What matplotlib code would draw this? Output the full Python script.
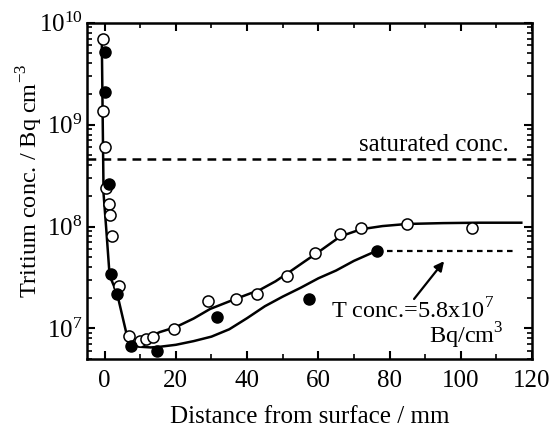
import matplotlib.pyplot as plt
import numpy as np
from matplotlib.ticker import LogLocator, MultipleLocator, NullFormatter

plt.rcParams['font.family'] = ['Liberation Serif', 'DejaVu Serif']
plt.rcParams['mathtext.fontset'] = 'custom'
plt.rcParams['mathtext.rm'] = 'Liberation Serif'

# open circles
open_x = [-0.5, -0.5, 0.0, 0.3, 1.1, 1.6, 2.2, 4.0, 6.8, 9.9, 11.7, 13.6,
          19.4, 28.9, 36.8, 42.9, 51.2, 59.2, 66.0, 72.1, 85.0, 103.1]
open_y = [6.9e9, 1.35e9, 6.1e8, 2.4e8, 1.66e8, 1.29e8, 8.0e7, 2.6e7, 8.4e6, 7.5e6, 7.9e6, 8.3e6,
          9.8e6, 1.87e7, 1.95e7, 2.2e7, 3.3e7, 5.5e7, 8.5e7, 9.6e7, 1.05e8, 9.6e7]

# filled circles
fill_x = [0.0, 0.0, 1.2, 1.7, 3.5, 7.3, 14.7, 31.6, 57.5, 76.5]
fill_y = [5.2e9, 2.1e9, 2.6e8, 3.4e7, 2.2e7, 6.7e6, 6.0e6, 1.29e7, 1.96e7, 5.8e7]

# fitted curves
drop_x = [-0.8, -0.55, -0.3, 0.5, 1.4, 3.5, 6.0, 8.0]
drop_y = [7.0e9, 1.2e9, 2.1e8, 9.0e7, 3.3e7, 2.2e7, 9.3e6, 6.8e6]
upper_x = [8.0, 10, 15.5, 20, 25, 29.6, 36, 43.7, 48, 52, 56, 60.6, 66.2, 72, 78, 85, 95, 105, 117]
upper_y = [6.8e6, 7.5e6, 9.2e6, 1.03e7, 1.25e7, 1.55e7, 1.9e7, 2.4e7, 2.9e7, 3.6e7, 4.5e7, 5.8e7,
           8.0e7, 9.4e7, 1.01e8, 1.06e8, 1.08e8, 1.09e8, 1.09e8]
lower_x = [8.0, 10, 13, 15.5, 20, 25, 30, 35, 40, 45, 50, 55, 60, 65, 70, 76.5]
lower_y = [6.8e6, 6.6e6, 6.5e6, 6.6e6, 6.9e6, 7.5e6, 8.3e6, 9.8e6, 1.26e7, 1.65e7, 2.05e7, 2.5e7,
           3.1e7, 3.7e7, 4.6e7, 5.8e7]

sat_conc = 4.6e8
t_conc = 5.8e7

fig = plt.figure(figsize=(5.53, 4.30), dpi=100)
ax = fig.add_axes([0.157, 0.165, 0.805, 0.782])

ax.plot(drop_x, drop_y, color='black', lw=1.8, zorder=2)
ax.plot(upper_x, upper_y, color='black', lw=1.8, zorder=2)
ax.plot(lower_x, lower_y, color='black', lw=1.8, zorder=2)

ax.axhline(sat_conc, color='black', lw=1.8, ls=(0, (3.5, 2.5)), zorder=1)
ax.plot([76.5, 115], [t_conc, t_conc], color='black', lw=1.6, ls=(0, (2.5, 2)), zorder=1)

ax.plot(open_x, open_y, 'o', mfc='white', mec='black', mew=1.1, ms=8, zorder=3)
ax.plot(fill_x, fill_y, 'o', mfc='black', mec='black', ms=8, zorder=4)

ax.text(113.5, 6.3e8, 'saturated conc.', ha='right', va='center', fontsize=18)
ax.text(63.5, 1.5e7, r'T conc.=5.8x10$^{7}$', ha='left', va='center', fontsize=17.5)
ax.text(112, 8.4e6, r'Bq/cm$^{3}$', ha='right', va='center', fontsize=17.5)
ax.annotate('', xy=(95.8, 4.8e7), xytext=(86.4, 1.85e7),
            arrowprops=dict(arrowstyle='-|>', color='black', lw=1.6, mutation_scale=14))

ax.set_yscale('log')
ax.set_xlim(-5, 120)
ax.set_ylim(5e6, 1e10)
ax.xaxis.set_major_locator(MultipleLocator(20))
ax.xaxis.set_minor_locator(MultipleLocator(10))
ax.yaxis.set_major_locator(LogLocator(base=10, numticks=10))
ax.yaxis.set_minor_locator(LogLocator(base=10, subs=np.arange(2, 10), numticks=20))
ax.yaxis.set_minor_formatter(NullFormatter())

ax.tick_params(which='both', direction='in', top=True, right=True, labelsize=18)
ax.tick_params(which='major', length=6, width=1.5)
ax.tick_params(which='minor', length=3.5, width=1.2)
ax.tick_params(axis='x', pad=8)
ax.tick_params(axis='y', pad=3)
for s in ax.spines.values():
    s.set_linewidth(1.8)

ax.set_xlabel('Distance from surface / mm', fontsize=18, labelpad=10)
ax.set_ylabel(r'Tritium conc. / Bq cm$^{-3}$', fontsize=17.5, labelpad=3)
ax.yaxis.set_label_coords(-0.095, 0.53)

fig.savefig('out.png', dpi=100)
